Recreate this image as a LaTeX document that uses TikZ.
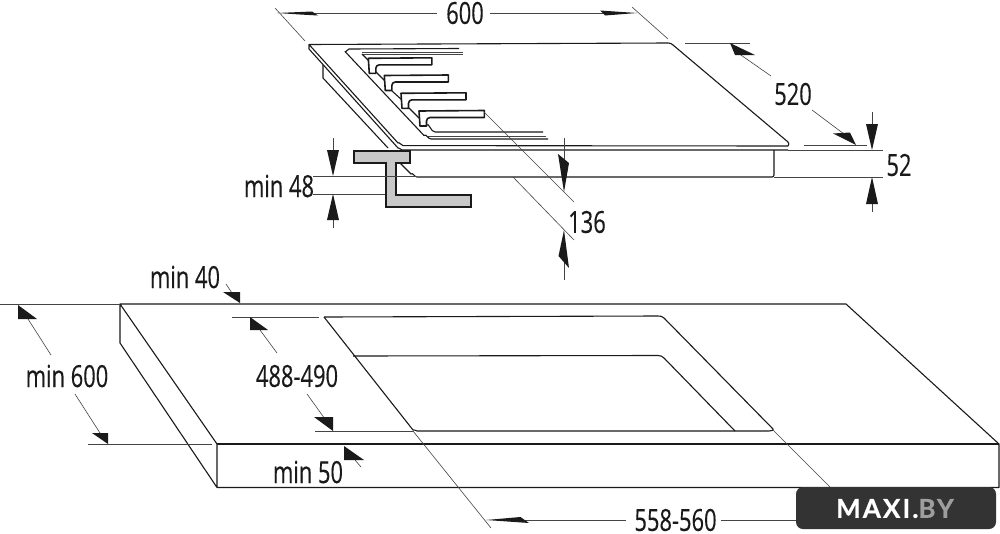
\documentclass[tikz,border=0pt]{standalone}
\usepackage{fontspec}
\setmainfont[FakeStretch=0.72,FakeBold=0.25]{Open Sans}
\newfontfamily\badgefont[LetterSpace=8,FakeBold=0.6]{Lato Bold}
\definecolor{ink}{HTML}{1A1A1A}
\definecolor{dimc}{HTML}{444444}
\definecolor{bracketc}{HTML}{C8C8C8}
\definecolor{badgec}{HTML}{333333}
\definecolor{badgegrey}{HTML}{9E9E9E}
\tikzset{
  outline/.style={draw=ink,line width=1.1pt,line join=round},
  fineline/.style={draw=dimc,line width=0.7pt},
  heavy/.style={draw=ink,line width=1.6pt,line join=round},
  dimline/.style={draw=dimc,line width=0.6pt},
  extline/.style={draw=dimc,line width=0.8pt},
  tip/.style={fill=ink,draw=none},
  dimtext/.style={font=\fontsize{30.4}{32}\selectfont,text=ink,inner sep=0pt,anchor=center},
}
\newcommand{\burner}[3]{%
  \begin{scope}[shift={(#1,#2)}]
    \draw[heavy,fill=white] (0,0) -- (#3,-0.5) -- (#3,6.5) -- (11,6.5) to[out=180,in=90] (7.5,10) -- (7.5,15) -- (1,15) -- cycle;
  \end{scope}}
\begin{document}
\begin{tikzpicture}[x=1pt,y=-1pt]
\useasboundingbox (0,0) rectangle (1000,533);
\fill[white] (0,0) rectangle (1000,533);
% hob
\draw[outline] (309,44.5) -- (668,43) to[out=0,in=135] (673,45) -- (788,142) to[out=-45,in=45] (788,146) -- (403,145.6) to[out=180,in=45] (398,143) -- (309,44.5) -- (309,49) -- (398,148) to[out=45,in=180] (402,150) -- (788,150);
\draw[outline] (323,65) -- (323,78) -- (388,148);
\draw[outline] (400,163) -- (411,174) to[out=45,in=180] (417,177) -- (772,177) to[out=0,in=-90] (774,175) -- (774,150);
% plate
\draw[outline] (459,48.5) -- (349,49) to[out=180,in=-60] (345,51.5) -- (424,135.5) to[out=45,in=180] (431,139) -- (548,139);
\draw[fineline] (428,136.5) -- (546,136.5);
\draw[fineline] (362,52.5) -- (463,52.5);
\draw[fineline] (362,54.5) -- (463,54.5);
\draw[outline] (362,54) -- (369,61);
\draw[outline] (376,72) -- (385,81);
\draw[outline] (392,91) -- (402,100);
\draw[outline] (409,108) -- (419,118);
\draw[outline] (426,125) to[out=45,in=180] (435,132) -- (543,132);
\burner{368.3}{58.3}{63.5}
\burner{384.3}{75.5}{64}
\burner{401}{93.3}{65}
\burner{419}{111}{65.3}
% bracket
\draw[line width=1.3pt,draw=ink,fill=bracketc,line join=miter] (354,151) -- (410,151) -- (410,163) -- (396,163) -- (396,195) -- (471,195) -- (471,207) -- (386,207) -- (386,163) -- (354,163) -- cycle;
% 600
\draw[dimline] (275,8) -- (305,41);
\draw[dimline] (632,7) -- (668,39);
\draw[dimline] (300,13.5) -- (437,13.5);
\draw[dimline] (490,13) -- (620,13);
\fill[tip] (277,13) -- (312,11.5) -- (318,15.5) -- (300,14.5) -- cycle;
\fill[tip] (637,13) -- (605,15.5) -- (600,10.5) -- cycle;
\node[dimtext] (t600) at (465,13) {600};
% 520
\draw[extline] (685,43) -- (750,43);
\draw[extline] (804,145) -- (867,145);
\draw[dimline] (738,53) -- (771,76);
\draw[dimline] (812,110) -- (848,137);
\fill[tip] (730,43) -- (755,55) -- (735,55) -- cycle;
\fill[tip] (856,145) -- (833,133.5) -- (850,132.5) -- cycle;
\node[dimtext] (t520) at (793,94) {520};
% 52
\draw[extline] (788,150) -- (883,150);
\draw[extline] (774,177) -- (883,177);
\draw[dimline] (872,112) -- (872,126);
\draw[dimline] (872,202) -- (872,212);
\fill[tip] (872,150) -- (866,124) -- (878,124) -- cycle;
\fill[tip] (872,177) -- (866,204) -- (878,204) -- cycle;
\node[dimtext] (t52) at (899,165) {52};
% min 48
\draw[dimline] (313,176) -- (417,176);
\draw[dimline] (313,194) -- (385,194);
\draw[dimline] (333,138) -- (333,152);
\draw[dimline] (333,218) -- (333,228);
\fill[tip] (333,176) -- (327,150) -- (339,150) -- cycle;
\fill[tip] (333,194) -- (327,220) -- (339,220) -- cycle;
\node[dimtext] (t48) at (279,186) {min 48};
% 136
\draw[dimline] (484,112) -- (574,202);
\draw[dimline] (513,177) -- (574,240);
\draw[dimline] (564,138) -- (564,160);
\draw[dimline] (564,262) -- (564,280);
\fill[tip] (564,192) -- (558,154) -- (569,163) -- cycle;
\fill[tip] (564,230) -- (558.5,256) -- (569,268) -- cycle;
\node[dimtext] (t136) at (587,222) {136};
% countertop
\draw[outline] (120,304) -- (846,304) -- (999,444) -- (999,487.5) -- (217,487.5) -- (217,444) -- (120,304) -- (120,343) -- (217,487.5);
\draw[outline] (217,444) -- (999,444);
% cut-out
\draw[outline] (324,317) -- (658,316) to[out=0,in=135] (664,318) -- (773,429) to[out=-45,in=0] (769,431) -- (417,431) to[out=180,in=45] (413,430) -- (324,317);
\draw[outline] (353,356) -- (658,355.5) to[out=0,in=135] (664,358) -- (735,431);
% min 40
\draw[dimline] (226,284) -- (232,293);
\fill[tip] (240,303) -- (223,292) -- (240,292) -- cycle;
\node[dimtext] (t40) at (185,277) {min 40};
% min 600
\draw[extline] (0,304) -- (120,304);
\draw[extline] (88,444) -- (212,444);
\draw[dimline] (28,319) -- (51,355);
\draw[dimline] (75,394) -- (100,433);
\fill[tip] (18,305) -- (18,319) -- (37,319) -- cycle;
\fill[tip] (108,444) -- (92,433) -- (108,433) -- cycle;
\node[dimtext] (t600b) at (67,376) {min 600};
% 488-490
\draw[extline] (232,317) -- (319,317);
\draw[extline] (315,431) -- (413,431);
\draw[dimline] (260,330) -- (277,353);
\draw[dimline] (307,394) -- (325,419);
\fill[tip] (250,317) -- (250,330) -- (268,330) -- cycle;
\fill[tip] (333,431) -- (314,417) -- (333,417) -- cycle;
\node[dimtext] (t488) at (297,376) {488-490};
% min 50
\draw[dimline] (355,460) -- (361,467);
\fill[tip] (344,446) -- (344,460) -- (364,460) -- cycle;
\node[dimtext] (t50) at (308,472) {min 50};
% 558-560
\draw[dimline] (413,431) -- (491,528);
\draw[dimline] (773,430) -- (832,489);
\draw[dimline] (510,520) -- (626,520);
\draw[dimline] (721,520) -- (797,520);
\fill[tip] (486,520) -- (520.5,517) -- (529,523) -- cycle;
\node[dimtext] (t558) at (675.5,520) {558-560};
% badge
\fill[badgec,rounded corners=7pt] (796,487) rectangle (996,529);
\node[inner sep=0pt,anchor=center,font=\badgefont\fontsize{26}{28}\selectfont,text=white] (badge) at (895,508.5) {MAXI.\textcolor{badgegrey}{BY}};
\end{tikzpicture}
\end{document}
